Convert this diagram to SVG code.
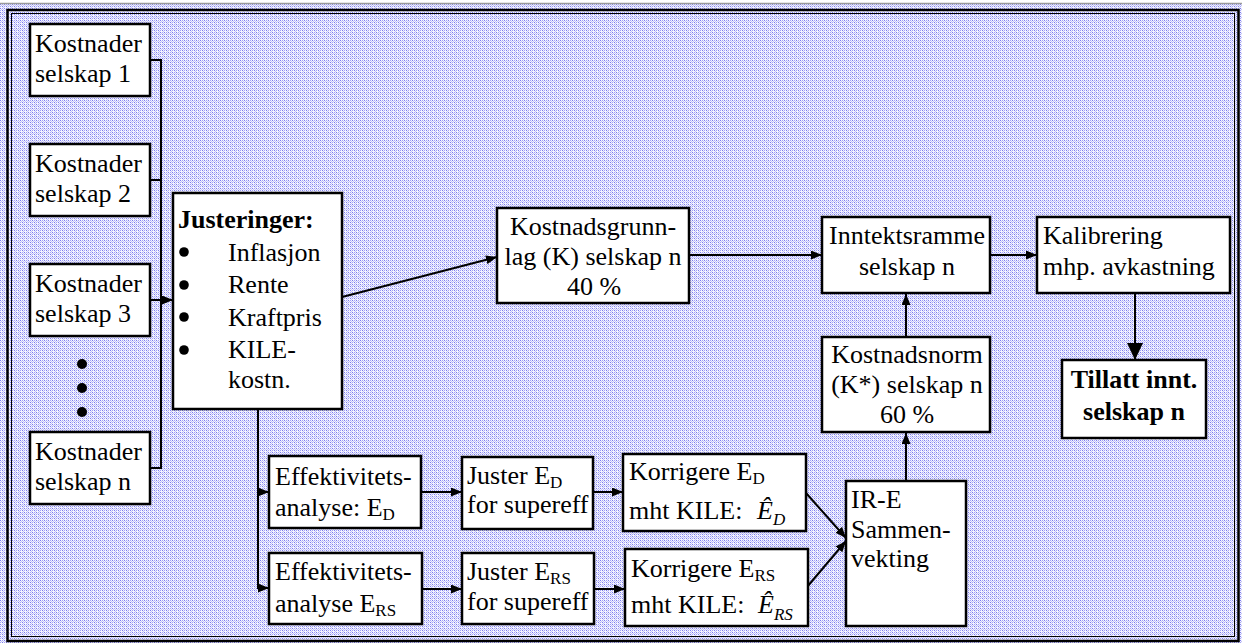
<svg xmlns="http://www.w3.org/2000/svg" width="1242" height="643" viewBox="0 0 1242 643">
<defs>
<pattern id="bg" x="0" y="0" width="4" height="4" patternUnits="userSpaceOnUse">
<rect width="4" height="4" fill="#f4f4ff"/>
<rect x="0" y="0" width="1" height="1" fill="#7c7cee"/>
<rect x="2" y="0" width="1" height="1" fill="#a4a4f4"/>
<rect x="1" y="1" width="1" height="1" fill="#c4c4f8"/>
<rect x="3" y="1" width="1" height="1" fill="#c4c4f8"/>
<rect x="0" y="2" width="1" height="1" fill="#a4a4f4"/>
<rect x="2" y="2" width="1" height="1" fill="#7c7cee"/>
<rect x="3" y="3" width="1" height="1" fill="#c4c4f8"/>
</pattern>
<marker id="arr" markerUnits="userSpaceOnUse" markerWidth="12" markerHeight="9" refX="11" refY="4.5" orient="auto">
<path d="M0,0 L11,4.5 L0,9 z" fill="#000"/>
</marker>
<marker id="arrBig" markerUnits="userSpaceOnUse" markerWidth="18" markerHeight="16" refX="17" refY="8" orient="auto">
<path d="M0,0 L17,8 L0,16 z" fill="#000"/>
</marker>
<style>
.box{fill:#fff;stroke:#000;stroke-width:2.5}
.t{font-family:"Liberation Serif","Times New Roman",serif;font-size:26px;fill:#000}
.m{text-anchor:middle}
.b{font-weight:bold}
.i{font-style:italic}
.sub{font-size:17px}
.c{stroke:#000;stroke-width:2;fill:none}
.ca{stroke:#000;stroke-width:2;fill:none;marker-end:url(#arr)}
.dot{fill:#000}
</style>
</defs>
<rect x="0" y="0" width="1242" height="643" fill="#fff"/>
<rect x="0" y="4" width="1242" height="639" fill="url(#bg)"/>
<line x1="0" y1="3.5" x2="1242" y2="3.5" stroke="#9a9a9a" stroke-width="1.5"/>
<rect x="7.5" y="10" width="1231" height="631" fill="none" stroke="#000" stroke-width="2.5"/>
<rect x="11.5" y="13.5" width="1223" height="623" fill="none" stroke="#000" stroke-width="1"/>

<g id="connectors">
<line class="c" x1="150" y1="60" x2="161" y2="60"/>
<line class="c" x1="150" y1="180" x2="161" y2="180"/>
<line class="c" x1="150" y1="468" x2="161" y2="468"/>
<line class="c" x1="161" y1="59" x2="161" y2="469"/>
<line class="ca" x1="150" y1="300" x2="173" y2="300"/>
<line class="ca" x1="342" y1="297" x2="497" y2="257"/>
<line class="c" x1="258" y1="409" x2="258" y2="589"/>
<line class="ca" x1="258" y1="492" x2="269" y2="492"/>
<line class="ca" x1="258" y1="588" x2="269" y2="588"/>
<line class="ca" x1="421" y1="492" x2="462" y2="492"/>
<line class="ca" x1="422" y1="589" x2="462" y2="589"/>
<line class="ca" x1="593" y1="492" x2="623" y2="492"/>
<line class="ca" x1="594" y1="589" x2="625" y2="589"/>
<line class="ca" x1="806" y1="493" x2="846" y2="538"/>
<line class="ca" x1="807" y1="587" x2="846" y2="541"/>
<line class="ca" x1="906" y1="481" x2="906" y2="433"/>
<line class="ca" x1="906" y1="337" x2="906" y2="294"/>
<line class="ca" x1="689" y1="255" x2="822" y2="255"/>
<line class="ca" x1="990" y1="255" x2="1037" y2="255"/>
<line x1="1135" y1="293" x2="1135" y2="360" stroke="#000" stroke-width="2" marker-end="url(#arrBig)"/>
</g>

<g id="kostnader1">
<rect class="box" x="30" y="24" width="120" height="72"/>
<text class="t" x="35" y="52">Kostnader</text>
<text class="t" x="35" y="82">selskap 1</text>
</g>
<g id="kostnader2">
<rect class="box" x="30" y="144" width="120" height="72"/>
<text class="t" x="35" y="172">Kostnader</text>
<text class="t" x="35" y="202">selskap 2</text>
</g>
<g id="kostnader3">
<rect class="box" x="30" y="264" width="120" height="72"/>
<text class="t" x="35" y="292">Kostnader</text>
<text class="t" x="35" y="322">selskap 3</text>
</g>
<g id="dots">
<circle class="dot" cx="82" cy="364" r="5"/>
<circle class="dot" cx="82" cy="388" r="5"/>
<circle class="dot" cx="82" cy="412" r="5"/>
</g>
<g id="kostnaderN">
<rect class="box" x="30" y="432" width="120" height="72"/>
<text class="t" x="35" y="460">Kostnader</text>
<text class="t" x="35" y="490">selskap n</text>
</g>

<g id="justeringer">
<rect class="box" x="173" y="193" width="169" height="216"/>
<text class="t b" x="178" y="228">Justeringer:</text>
<circle class="dot" cx="184" cy="252" r="4.8"/>
<circle class="dot" cx="184" cy="285" r="4.8"/>
<circle class="dot" cx="184" cy="317" r="4.8"/>
<circle class="dot" cx="184" cy="350" r="4.8"/>
<text class="t" x="228" y="261">Inflasjon</text>
<text class="t" x="228" y="293">Rente</text>
<text class="t" x="228" y="326">Kraftpris</text>
<text class="t" x="228" y="358">KILE-</text>
<text class="t" x="228" y="388">kostn.</text>
</g>

<g id="kostnadsgrunnlag">
<rect class="box" x="497" y="208" width="192" height="95"/>
<text class="t m" x="593" y="235">Kostnadsgrunn-</text>
<text class="t m" x="593" y="265">lag (K) selskap n</text>
<text class="t m" x="594" y="295">40 %</text>
</g>

<g id="inntektsramme">
<rect class="box" x="822" y="217" width="168" height="76"/>
<text class="t m" x="907" y="244">Inntektsramme</text>
<text class="t m" x="907" y="275">selskap n</text>
</g>

<g id="kalibrering">
<rect class="box" x="1037" y="217" width="193" height="76"/>
<text class="t" x="1043" y="244">Kalibrering</text>
<text class="t" x="1043" y="275">mhp. avkastning</text>
</g>

<g id="tillatt">
<rect class="box" x="1062" y="360" width="144" height="78"/>
<text class="t m b" x="1134" y="388">Tillatt innt.</text>
<text class="t m b" x="1134" y="420">selskap n</text>
</g>

<g id="kostnadsnorm">
<rect class="box" x="822" y="337" width="168" height="95"/>
<text class="t m" x="907" y="363">Kostnadsnorm</text>
<text class="t m" x="907" y="393">(K*) selskap n</text>
<text class="t m" x="907" y="423">60 %</text>
</g>

<g id="effED">
<rect class="box" x="269" y="456" width="152" height="72"/>
<text class="t" x="275" y="485">Effektivitets-</text>
<text class="t" x="275" y="516">analyse: E<tspan class="sub" dy="4">D</tspan></text>
</g>
<g id="effERS">
<rect class="box" x="269" y="553" width="153" height="71"/>
<text class="t" x="275" y="580">Effektivitets-</text>
<text class="t" x="275" y="612">analyse E<tspan class="sub" dy="4">RS</tspan></text>
</g>

<g id="justerED">
<rect class="box" x="462" y="457" width="131" height="72"/>
<text class="t" x="467" y="484">Juster E<tspan class="sub" dy="4">D</tspan></text>
<text class="t" x="467" y="513">for supereff</text>
</g>
<g id="justerERS">
<rect class="box" x="462" y="553" width="132" height="71"/>
<text class="t" x="467" y="580">Juster E<tspan class="sub" dy="4">RS</tspan></text>
<text class="t" x="467" y="610">for supereff</text>
</g>

<g id="korrigereED">
<rect class="box" x="623" y="454" width="183" height="77"/>
<text class="t" x="629" y="480">Korrigere E<tspan class="sub" dy="4">D</tspan></text>
<text class="t" x="629" y="519">mht KILE:</text>
<text class="t i" x="757" y="519">Ê<tspan class="sub" dy="6">D</tspan></text>
</g>
<g id="korrigereERS">
<rect class="box" x="625" y="549" width="183" height="77"/>
<text class="t" x="631" y="577">Korrigere E<tspan class="sub" dy="4">RS</tspan></text>
<text class="t" x="631" y="613">mht KILE:</text>
<text class="t i" x="758" y="613">Ê<tspan class="sub" dy="7">RS</tspan></text>
</g>

<g id="irE">
<rect class="box" x="846" y="481" width="120" height="145"/>
<text class="t" x="851" y="508">IR-E</text>
<text class="t" x="851" y="538">Sammen-</text>
<text class="t" x="851" y="567">vekting</text>
</g>
</svg>
